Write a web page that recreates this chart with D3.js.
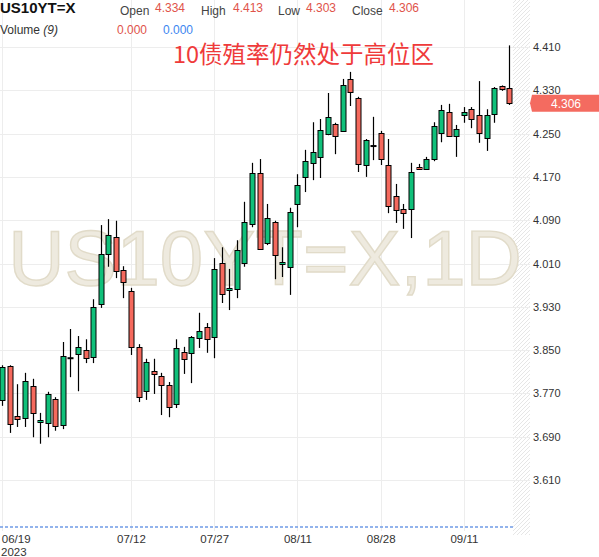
<!DOCTYPE html>
<html><head><meta charset="utf-8">
<script src="https://cdn.jsdelivr.net/npm/d3@7"></script>
<style>
html,body{margin:0;padding:0;background:#fff;}
svg{display:block;font-family:"Liberation Sans",Arial,sans-serif;}
</style></head>
<body>
<svg id="chart" width="599" height="557"></svg>
<script>
const dates = ["06/19","06/20","06/21","06/22","06/23","06/26","06/27","06/28","06/29","06/30",
"07/03","07/04","07/05","07/06","07/07","07/10","07/11","07/12","07/13","07/14",
"07/17","07/18","07/19","07/20","07/21","07/24","07/25","07/26","07/27","07/28",
"07/31","08/01","08/02","08/03","08/04","08/07","08/08","08/09","08/10","08/11",
"08/14","08/15","08/16","08/17","08/18","08/21","08/22","08/23","08/24","08/25",
"08/28","08/29","08/30","08/31","09/01","09/04","09/05","09/06","09/07","09/08",
"09/10","09/11","09/12","09/13","09/14","09/15","09/18","09/19"];

const open = [3.758,3.821,3.728,3.725,3.784,3.717,3.715,3.760,3.712,3.835,
3.843,3.850,3.837,3.935,4.028,4.059,3.998,3.959,3.856,3.774,
3.811,3.802,3.786,3.750,3.846,3.845,3.872,3.893,3.874,4.011,
3.961,3.963,4.011,4.083,4.177,4.048,4.087,4.009,4.004,4.120,
4.170,4.196,4.207,4.249,4.268,4.255,4.351,4.316,4.192,4.227,
4.251,4.192,4.135,4.111,4.111,4.188,4.185,4.203,4.251,4.290,
4.246,4.284,4.295,4.284,4.242,4.286,4.338,4.334];

const high = [3.822,3.822,3.787,3.808,3.797,3.734,3.773,3.763,3.865,3.889,
3.876,3.870,3.944,4.081,4.092,4.089,4.005,3.965,3.861,3.834,
3.834,3.808,3.791,3.870,3.856,3.876,3.919,3.900,4.020,4.040,
4.000,4.053,4.124,4.196,4.203,4.120,4.089,4.040,4.113,4.175,
4.220,4.271,4.277,4.325,4.270,4.351,4.364,4.318,4.240,4.281,
4.255,4.240,4.157,4.120,4.196,4.194,4.207,4.271,4.303,4.305,
4.266,4.299,4.299,4.347,4.295,4.336,4.339,4.413];

const low = [3.747,3.697,3.708,3.708,3.689,3.677,3.689,3.701,3.704,3.800,
3.774,3.826,3.826,3.928,4.004,3.983,3.946,3.841,3.754,3.758,
3.769,3.730,3.726,3.743,3.806,3.789,3.854,3.845,3.835,3.937,
3.924,3.946,4.004,4.077,4.035,4.044,3.981,3.985,3.952,4.077,
4.142,4.164,4.168,4.247,4.212,4.253,4.301,4.179,4.170,4.201,
4.192,4.103,4.085,4.074,4.057,4.183,4.183,4.199,4.234,4.244,
4.207,4.270,4.260,4.233,4.218,4.270,4.329,4.303];

const close = [3.819,3.713,3.723,3.793,3.734,3.721,3.769,3.710,3.839,3.835,
3.856,3.835,3.930,4.028,4.063,3.996,3.976,3.856,3.763,3.828,
3.806,3.786,3.745,3.854,3.834,3.874,3.885,3.870,4.000,3.954,
3.965,4.035,4.087,4.177,4.037,4.094,4.026,4.013,4.105,4.155,
4.199,4.216,4.257,4.281,4.246,4.340,4.327,4.194,4.238,4.227,
4.203,4.116,4.109,4.103,4.179,4.185,4.203,4.264,4.294,4.246,
4.258,4.290,4.277,4.251,4.284,4.334,4.332,4.306];

const priceTicks = [4.410,4.330,4.250,4.170,4.090,4.010,3.930,3.850,3.770,3.690,3.610];
const dateTicks = ["06/19","07/12","07/27","08/11","08/28","09/11"];
const yearLabel = "2023";
const symbol = "US10YT=X";
const watermark = "US10YT=X,1D";
const headline = "10债殖率仍然处于高位区";
const headerFields = [["Open","4.334"],["High","4.413"],["Low","4.303"],["Close","4.306"]];
const volumeLabel = ["Volume ","(9)"];
const volumeValues = [0.000, 0.000];
const lastPrice = 4.306;

const UP = "#10c07a", DOWN = "#f5695d";
const svg = d3.select("#chart");

// scales
const x = d3.scalePoint().domain(dates).range([-1.5, 513.1]).padding(0.5);
const y = d3.scaleLinear().domain([3.610, 4.410]).range([480, 47]);
const yVol = d3.scaleLinear().domain([0, 1]).range([527, 480]);

// hatch pattern
const defs = svg.append("defs");
const pat = defs.append("pattern").attr("id","hatch").attr("patternUnits","userSpaceOnUse")
  .attr("width",4).attr("height",4);
pat.append("path").attr("d","M-1,1 l2,-2 M0,4 l4,-4 M3,5 l2,-2")
  .attr("stroke","#e6e6e6").attr("stroke-width",1);
svg.append("rect").attr("x",513).attr("y",0).attr("width",17).attr("height",535).attr("fill","url(#hatch)");

// grid
const grid = svg.append("g");
grid.selectAll("line.h").data(priceTicks).join("line")
  .attr("x1",0).attr("x2",530)
  .attr("y1",d=>Math.round(y(d))+0.5).attr("y2",d=>Math.round(y(d))+0.5)
  .attr("stroke","#ededed");
grid.selectAll("line.v").data(dateTicks).join("line")
  .attr("y1",0).attr("y2",531)
  .attr("x1",d=>Math.round(x(d))+0.5).attr("x2",d=>Math.round(x(d))+0.5)
  .attr("stroke","#ededed");

// watermark
svg.append("text").attr("x",265).attr("y",285).attr("text-anchor","middle")
  .attr("font-size",78).attr("fill","#eeeadf").attr("stroke","#e1dbc9").attr("stroke-width",1.4)
  .text(watermark);

// candles
const data = dates.map((d,i)=>({d,o:open[i],h:high[i],l:low[i],c:close[i]}));
const cg = svg.append("g");
const c = cg.selectAll("g").data(data).join("g");
c.append("line")
  .attr("x1",d=>Math.round(x(d.d))+0.5).attr("x2",d=>Math.round(x(d.d))+0.5)
  .attr("y1",d=>y(d.h)).attr("y2",d=>y(d.l))
  .attr("stroke","#000").attr("stroke-width",1.2);
c.each(function(d){
  const g = d3.select(this);
  const cx = Math.round(x(d.d));
  const top = y(Math.max(d.o,d.c)), bot = y(Math.min(d.o,d.c));
  if (d.o === d.c) {
    g.append("rect").attr("x",cx-2.5).attr("y",top-1).attr("width",6).attr("height",2).attr("fill","#000");
  } else {
    g.append("rect").attr("x",cx-2).attr("y",Math.round(top)+0.5)
      .attr("width",5).attr("height",Math.max(1,Math.round(bot)-Math.round(top)))
      .attr("fill",d.c>d.o?UP:DOWN).attr("stroke","#000").attr("stroke-width",1);
  }
});

// volume zero line
svg.append("line").attr("x1",0).attr("x2",513).attr("y1",yVol(volumeValues[0])).attr("y2",yVol(volumeValues[0]))
  .attr("stroke","#6f9be6").attr("stroke-width",1.5).attr("stroke-dasharray","3,2");

// y axis
const yAxis = svg.append("g").attr("transform","translate(530,0)")
  .call(d3.axisRight(y).tickValues(priceTicks).tickSize(0).tickPadding(3).tickFormat(d3.format(".3f")));
yAxis.select(".domain").remove();
yAxis.selectAll("text").attr("font-size",11).attr("fill","#333").attr("font-family","Liberation Sans, Arial, sans-serif");

// x axis
const xAxis = svg.append("g").attr("transform","translate(0,533)")
  .call(d3.axisBottom(x).tickValues(dateTicks).tickSize(0).tickPadding(2));
xAxis.select(".domain").remove();
xAxis.selectAll("text").attr("font-size",11.5).attr("fill","#333").attr("font-family","Liberation Sans, Arial, sans-serif")
  .attr("dy","0.71em");
xAxis.selectAll(".tick").filter(d=>d===dateTicks[0]).select("text").attr("text-anchor","start").attr("x",-1);
svg.append("text").attr("x",1).attr("y",555.5).attr("font-size",11.5).attr("fill","#333").text(yearLabel);

// last price label
const ly = y(lastPrice);
svg.append("path").attr("d",`M532,${ly-8.5} H599 V${ly+8.5} H532 L530,${ly} Z`).attr("fill","#f46b60");
svg.append("text").attr("x",566).attr("y",ly+4.5).attr("text-anchor","middle")
  .attr("font-size",12).attr("fill","#fff").text(d3.format(".3f")(lastPrice));

// header
svg.append("text").attr("x",0).attr("y",13).attr("font-size",15).attr("font-weight","bold").attr("fill","#111").text(symbol);
const hx = [[120,155],[201,233],[278,306],[352,389]];
headerFields.forEach((f,i)=>{
  svg.append("text").attr("x",hx[i][0]).attr("y",15).attr("font-size",12).attr("fill","#444").text(f[0]);
  svg.append("text").attr("x",hx[i][1]).attr("y",12).attr("font-size",12).attr("fill","#e0534a").text(f[1]);
});
const vt = svg.append("text").attr("x",0).attr("y",34).attr("font-size",12).attr("fill","#333");
vt.append("tspan").text(volumeLabel[0]);
vt.append("tspan").attr("font-style","italic").text(volumeLabel[1]);
svg.append("text").attr("x",117).attr("y",34).attr("font-size",12).attr("fill","#e0534a").text(d3.format(".3f")(volumeValues[0]));
svg.append("text").attr("x",163).attr("y",34).attr("font-size",12).attr("fill","#3d86f0").text(d3.format(".3f")(volumeValues[1]));

// headline
svg.append("text").attr("x",173).attr("y",63).attr("font-size",23.5)
  .attr("font-family","'Noto Sans CJK SC', sans-serif").attr("fill","#ef3a3a").text(headline);
</script>
</body></html>
